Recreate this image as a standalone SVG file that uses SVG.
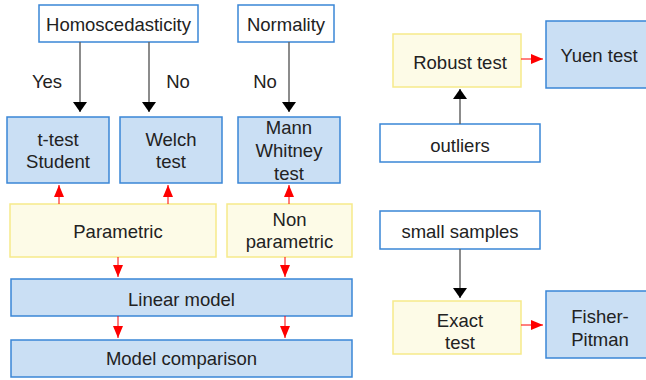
<svg xmlns="http://www.w3.org/2000/svg" width="646" height="380" viewBox="0 0 646 380">
<defs>
<marker id="ab" markerWidth="10" markerHeight="14" refX="10" refY="5" orient="auto" markerUnits="userSpaceOnUse" viewBox="0 0 10 10" preserveAspectRatio="none">
<path d="M0,0 L10,5 L0,10 Z" fill="#000"/>
</marker>
<marker id="ar" markerWidth="12" markerHeight="10" refX="10" refY="5" orient="auto" markerUnits="userSpaceOnUse" viewBox="0 0 10 10" preserveAspectRatio="none">
<path d="M0,0 L10,5 L0,10 Z" fill="#f00"/>
</marker>
</defs>
<style>
text{font-family:"Liberation Sans",Arial,sans-serif;font-size:18.5px;fill:#222;text-anchor:middle}
.w{fill:#fff;stroke:#3a86d6;stroke-width:1.5}
.b{fill:#cadff4;stroke:#3a86d6;stroke-width:1.5}
.y{fill:#fdfbe7;stroke:#f6ea8a;stroke-width:1.5}
.k{stroke:#666;stroke-width:1.5;fill:none;marker-end:url(#ab)}
.r{stroke:#f00;stroke-width:1;fill:none;marker-end:url(#ar)}
</style>
<g id="homoscedasticity"><rect class="w" x="39" y="5" width="159" height="37"/><text x="118.5" y="31">Homoscedasticity</text></g>
<g id="normality"><rect class="w" x="238" y="5" width="96" height="37"/><text x="286" y="31">Normality</text></g>
<g id="ttest"><rect class="b" x="7" y="117" width="102" height="66"/><text x="58" y="146">t-test</text><text x="58" y="168">Student</text></g>
<g id="welch"><rect class="b" x="120" y="117" width="102" height="66"/><text x="171" y="146">Welch</text><text x="171" y="168">test</text></g>
<g id="mann"><rect class="b" x="238" y="117" width="102" height="66"/><text x="289" y="134">Mann</text><text x="289" y="157">Whitney</text><text x="289" y="180">test</text></g>
<g id="parametric"><rect class="y" x="10" y="204" width="206" height="53"/><text x="118" y="238">Parametric</text></g>
<g id="nonparametric"><rect class="y" x="227" y="204" width="125" height="53"/><text x="289.5" y="226">Non</text><text x="289.5" y="248">parametric</text></g>
<g id="linear"><rect class="b" x="11" y="279" width="341" height="37"/><text x="181.5" y="306">Linear model</text></g>
<g id="comparison"><rect class="b" x="11" y="340" width="341" height="37"/><text x="181.5" y="365">Model comparison</text></g>
<g id="robust"><rect class="y" x="393" y="34" width="128" height="53"/><text x="460" y="69">Robust test</text></g>
<g id="yuen"><rect class="b" x="546" y="21" width="101" height="67"/><text x="599" y="62">Yuen test</text></g>
<g id="outliers"><rect class="w" x="380" y="124" width="160" height="38"/><text x="460" y="152">outliers</text></g>
<g id="small"><rect class="w" x="380" y="211" width="160" height="38"/><text x="460" y="238">small samples</text></g>
<g id="exact"><rect class="y" x="393" y="301" width="128" height="53"/><text x="460" y="327">Exact</text><text x="460" y="349">test</text></g>
<g id="fisher"><rect class="b" x="546" y="291" width="101" height="67"/><text x="600" y="323">Fisher-</text><text x="600" y="346">Pitman</text></g>
<g id="connectors">
<line class="k" x1="80" y1="42" x2="80" y2="112"/>
<line class="k" x1="149" y1="42" x2="149" y2="112"/>
<line class="k" x1="289" y1="42" x2="289" y2="112"/>
<line class="k" x1="460" y1="124" x2="460" y2="89"/>
<line class="k" x1="460" y1="249" x2="460" y2="298"/>
<line class="r" x1="59" y1="204" x2="59" y2="185"/>
<line class="r" x1="168" y1="204" x2="168" y2="185"/>
<line class="r" x1="289" y1="204" x2="289" y2="185"/>
<line class="r" x1="118" y1="257" x2="118" y2="277"/>
<line class="r" x1="285" y1="257" x2="285" y2="277"/>
<line class="r" x1="118" y1="316" x2="118" y2="338"/>
<line class="r" x1="285" y1="316" x2="285" y2="338"/>
<line class="r" x1="521" y1="59" x2="543" y2="59"/>
<line class="r" x1="521" y1="325" x2="543" y2="325"/>
</g>
<text x="47" y="88">Yes</text>
<text x="178" y="88">No</text>
<text x="265" y="88">No</text>
</svg>
